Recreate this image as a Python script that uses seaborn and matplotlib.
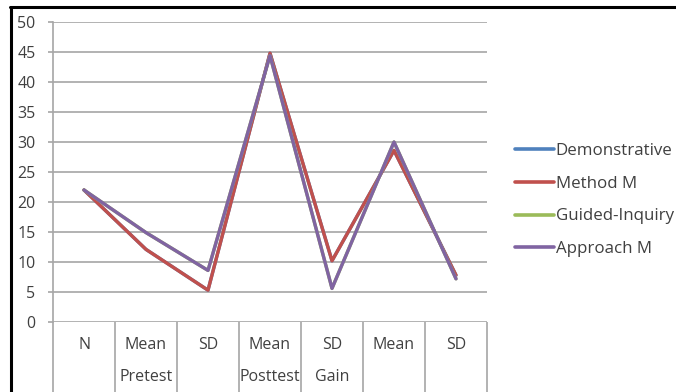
import numpy as np
import pandas as pd
import matplotlib
matplotlib.use("Agg")
import matplotlib.pyplot as plt
from matplotlib.lines import Line2D
import seaborn as sns

# DATA
categories = ["N", "Mean\nPretest", "SD", "Mean\nPosttest", "SD\nGain", "Mean", "SD"]
series_names = ["Demonstrative", "Method M", "Guided-Inquiry", "Approach M"]
demonstrative = [22, 12.1, 5.3, 44.8, 10.2, 28.6, 7.8]
method_m = [22, 12.1, 5.3, 44.8, 10.2, 28.6, 7.8]
guided_inquiry = [22, 14.9, 8.6, 44.4, 5.6, 30.0, 7.2]
approach_m = [22, 14.9, 8.6, 44.4, 5.6, 30.0, 7.2]
colors = ["#4f81bd", "#c0504d", "#9bbb59", "#8064a2"]

positions = np.arange(len(categories))
frames = []
for name, vals in zip(series_names, [demonstrative, method_m, guided_inquiry, approach_m]):
    frames.append(pd.DataFrame({"pos": positions, "value": vals, "series": name}))
df = pd.concat(frames, ignore_index=True)

sns.set_style("white")
plt.rcParams["font.family"] = ["Open Sans", "DejaVu Sans"]

fig = plt.figure(figsize=(6.76, 3.92), dpi=100)
ax = fig.add_axes([53 / 676, 1 - 322 / 392, 434 / 676, 300 / 392])

sns.lineplot(data=df, x="pos", y="value", hue="series", hue_order=series_names,
             palette=colors, sort=False, linewidth=2.4, ax=ax, legend=False)

# axes look
ax.set_xlim(-0.5, len(categories) - 0.5)
ax.set_ylim(0, 50)
ax.set_yticks(np.arange(0, 51, 5))
ax.grid(axis="y", color="#a6a6a6", linewidth=1.2)
ax.set_axisbelow(True)
for s in ["top", "right", "bottom"]:
    ax.spines[s].set_visible(False)
ax.spines["left"].set_color("#a6a6a6")
ax.spines["left"].set_linewidth(1.2)
ax.tick_params(axis="y", left=True, length=3.6, color="#a6a6a6", width=1.2, labelsize=11.5,
               labelcolor="#404040", pad=9)

ax.set_xticks(positions)
ax.set_xticklabels(categories, fontsize=11.5, color="#404040", linespacing=2.3, va="top")
ax.set_xticks(np.arange(-0.5, len(categories), 1), minor=True)
ax.tick_params(axis="x", which="major", bottom=True, length=0, pad=11)
ax.tick_params(axis="x", which="minor", bottom=True, length=52, color="#a6a6a6", width=1.2,
               direction="out")
ax.set_xlabel("")
ax.set_ylabel("")

# legend
handles = [Line2D([0], [0], color=c, lw=2.6) for c in colors]
fig.legend(handles, series_names, loc="center left", bbox_to_anchor=(515 / 676, 1 - 200 / 392),
           frameon=False, borderpad=0, borderaxespad=0, handlelength=2.3,
           handletextpad=0.1, labelspacing=1.0, fontsize=12.2, labelcolor="#404040")

# outer frame
fig.add_artist(Line2D([11 / 676, 11 / 676], [0, 1 - 7 / 392], color="black", lw=2.2,
                      transform=fig.transFigure))
fig.add_artist(Line2D([10 / 676, 1], [1 - 7 / 392, 1 - 7 / 392], color="black", lw=2.2,
                      transform=fig.transFigure))

fig.savefig("out.png", dpi=100)
